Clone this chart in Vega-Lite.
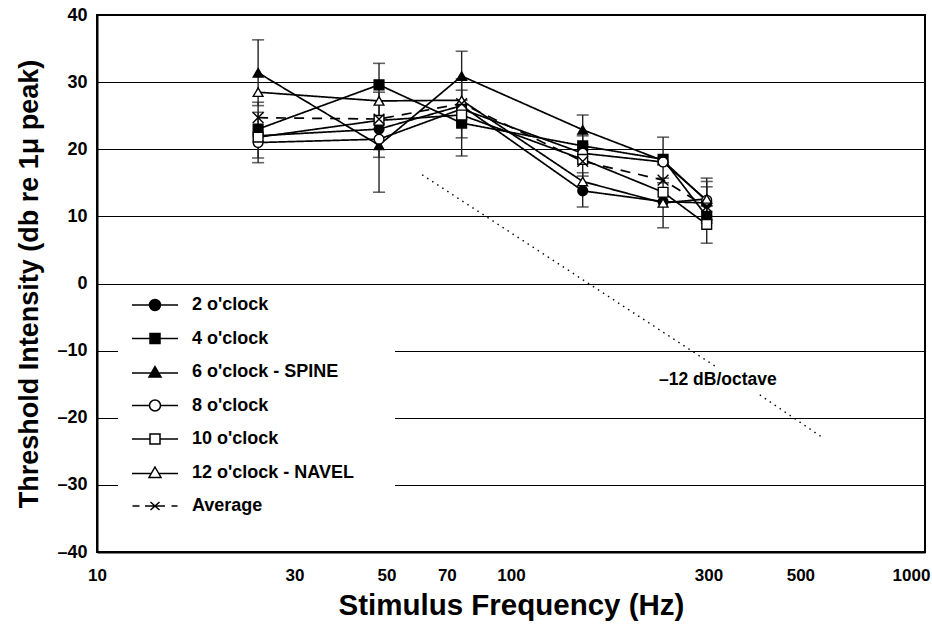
{
  "$schema": "https://vega.github.io/schema/vega-lite/v6.json",
  "width": 828,
  "height": 537,
  "autosize": "none",
  "padding": {"left": 97, "top": 15, "right": 7, "bottom": 74},
  "background": "white",
  "config": {
    "font": "Liberation Sans",
    "view": {"stroke": "black", "strokeWidth": 2},
    "axis": {"labelColor": "black", "titleColor": "black", "domainColor": "black", "domainWidth": 2}
  },
  "datasets": {
    "pts": [
      {"series": "2 o'clock", "freq": 24.5, "db": 22.0},
      {"series": "2 o'clock", "freq": 48, "db": 23.0},
      {"series": "2 o'clock", "freq": 76, "db": 26.5},
      {"series": "2 o'clock", "freq": 149, "db": 13.8},
      {"series": "2 o'clock", "freq": 233, "db": 12.2},
      {"series": "2 o'clock", "freq": 297, "db": 12.0},
      {"series": "4 o'clock", "freq": 24.5, "db": 23.0},
      {"series": "4 o'clock", "freq": 48, "db": 29.6},
      {"series": "4 o'clock", "freq": 76, "db": 23.9},
      {"series": "4 o'clock", "freq": 149, "db": 20.5},
      {"series": "4 o'clock", "freq": 233, "db": 18.5},
      {"series": "4 o'clock", "freq": 297, "db": 10.0},
      {"series": "6 o'clock - SPINE", "freq": 24.5, "db": 31.4},
      {"series": "6 o'clock - SPINE", "freq": 48, "db": 20.6},
      {"series": "6 o'clock - SPINE", "freq": 76, "db": 30.9},
      {"series": "6 o'clock - SPINE", "freq": 149, "db": 22.9},
      {"series": "6 o'clock - SPINE", "freq": 233, "db": 18.3},
      {"series": "6 o'clock - SPINE", "freq": 297, "db": 12.3},
      {"series": "8 o'clock", "freq": 24.5, "db": 21.0},
      {"series": "8 o'clock", "freq": 48, "db": 21.5},
      {"series": "8 o'clock", "freq": 76, "db": 26.0},
      {"series": "8 o'clock", "freq": 149, "db": 19.4},
      {"series": "8 o'clock", "freq": 233, "db": 18.1},
      {"series": "8 o'clock", "freq": 297, "db": 12.4},
      {"series": "10 o'clock", "freq": 24.5, "db": 21.8},
      {"series": "10 o'clock", "freq": 48, "db": 24.3},
      {"series": "10 o'clock", "freq": 76, "db": 25.1},
      {"series": "10 o'clock", "freq": 149, "db": 18.5},
      {"series": "10 o'clock", "freq": 233, "db": 13.6},
      {"series": "10 o'clock", "freq": 297, "db": 8.8},
      {"series": "12 o'clock - NAVEL", "freq": 24.5, "db": 28.5},
      {"series": "12 o'clock - NAVEL", "freq": 48, "db": 27.2},
      {"series": "12 o'clock - NAVEL", "freq": 76, "db": 27.3},
      {"series": "12 o'clock - NAVEL", "freq": 149, "db": 15.2},
      {"series": "12 o'clock - NAVEL", "freq": 233, "db": 12.0},
      {"series": "12 o'clock - NAVEL", "freq": 297, "db": 12.6},
      {"series": "Average", "freq": 24.5, "db": 24.7},
      {"series": "Average", "freq": 48, "db": 24.5},
      {"series": "Average", "freq": 76, "db": 26.8},
      {"series": "Average", "freq": 149, "db": 18.2},
      {"series": "Average", "freq": 233, "db": 15.4},
      {"series": "Average", "freq": 297, "db": 11.4}
    ],
    "err": [
      {"freq": 24.5, "lo": 26.5, "hi": 36.3},
      {"freq": 24.5, "lo": 18.7, "hi": 27.0},
      {"freq": 24.5, "lo": 18.0, "hi": 25.5},
      {"freq": 48, "lo": 13.6, "hi": 32.8},
      {"freq": 48, "lo": 18.8, "hi": 28.5},
      {"freq": 76, "lo": 27.3, "hi": 34.6},
      {"freq": 76, "lo": 19.0, "hi": 28.8},
      {"freq": 76, "lo": 21.7, "hi": 30.5},
      {"freq": 149, "lo": 20.7, "hi": 25.1},
      {"freq": 149, "lo": 11.4, "hi": 16.5},
      {"freq": 149, "lo": 16.0, "hi": 22.0},
      {"freq": 233, "lo": 15.0, "hi": 21.8},
      {"freq": 233, "lo": 8.3, "hi": 15.7},
      {"freq": 297, "lo": 6.0, "hi": 11.5},
      {"freq": 297, "lo": 9.0, "hi": 15.7},
      {"freq": 297, "lo": 10.0, "hi": 15.2},
      {"freq": 297, "lo": 9.5, "hi": 14.4}
    ],
    "slope": [
      {"seg": "a", "freq": 61, "db": 16.2},
      {"seg": "a", "freq": 311, "db": -12.3},
      {"seg": "b", "freq": 399, "db": -16.6},
      {"seg": "b", "freq": 564, "db": -22.9}
    ],
    "ann": [
      {"freq": 316, "db": -14.4, "label": "–12 dB/octave"}
    ]
  },
  "encoding": {
    "x": {
      "field": "freq", "type": "quantitative",
      "scale": {"type": "log", "domain": [10, 1000], "nice": false},
      "axis": {
        "values": [10, 30, 50, 70, 100, 300, 500, 1000], "format": "d",
        "grid": false, "ticks": false, "labelFlush": false,
        "labelOffset": {"condition": {"test": "datum.value == 1000", "value": -14}, "value": 0},
        "labelFontSize": 17, "labelFontWeight": "bold", "labelPadding": 15,
        "title": "Stimulus Frequency (Hz)", "titleFontSize": 29.5, "titleFontWeight": "bold", "titlePadding": 8
      }
    },
    "y": {
      "field": "db", "type": "quantitative",
      "scale": {"domain": [-40, 40], "nice": false},
      "axis": {
        "values": [-40, -30, -20, -10, 0, 10, 20, 30, 40],
        "grid": true, "gridColor": "black", "gridWidth": 1, "ticks": false,
        "labelExpr": "datum.value < 0 ? '–' + abs(datum.value) : datum.label",
        "labelFontSize": 18, "labelFontWeight": "bold", "labelPadding": 10,
        "title": "Threshold Intensity (db re 1μ peak)", "titleFontSize": 27, "titleFontWeight": "bold", "titlePadding": 13
      }
    }
  },
  "layer": [
    {
      "data": {"name": "slope"},
      "mark": {"type": "line", "color": "black", "strokeWidth": 1.4, "strokeDash": [1.5, 4.5]},
      "encoding": {"detail": {"field": "seg"}}
    },
    {
      "data": {"name": "ann"},
      "mark": {"type": "text", "fontSize": 17.5, "fontWeight": "bold", "color": "black", "align": "center", "baseline": "middle"},
      "encoding": {"text": {"field": "label"}}
    },
    {
      "data": {"name": "err"},
      "mark": {"type": "rule", "color": "#222", "strokeWidth": 1.4},
      "encoding": {"y": {"field": "lo", "type": "quantitative"}, "y2": {"field": "hi"}}
    },
    {
      "data": {"name": "err"},
      "mark": {"type": "tick", "orient": "horizontal", "color": "#222", "size": 12, "thickness": 1.6},
      "encoding": {"y": {"field": "lo", "type": "quantitative"}}
    },
    {
      "data": {"name": "err"},
      "mark": {"type": "tick", "orient": "horizontal", "color": "#222", "size": 12, "thickness": 1.6},
      "encoding": {"y": {"field": "hi", "type": "quantitative"}}
    },
    {
      "data": {"name": "pts"},
      "mark": {"type": "line", "color": "black"},
      "encoding": {
        "detail": {"field": "series"},
        "strokeDash": {
          "field": "series", "type": "nominal", "legend": null,
          "scale": {
            "domain": ["2 o'clock", "4 o'clock", "6 o'clock - SPINE", "8 o'clock", "10 o'clock", "12 o'clock - NAVEL", "Average"],
            "range": [[1, 0], [1, 0], [1, 0], [1, 0], [1, 0], [1, 0], [10, 8]]
          }
        },
        "strokeWidth": {
          "field": "series", "type": "nominal", "legend": null,
          "scale": {
            "domain": ["2 o'clock", "4 o'clock", "6 o'clock - SPINE", "8 o'clock", "10 o'clock", "12 o'clock - NAVEL", "Average"],
            "range": [1.7, 1.7, 1.7, 1.7, 1.7, 1.7, 2.8]
          }
        }
      }
    },
    {
      "data": {"name": "pts"},
      "mark": {"type": "point", "filled": true, "stroke": "black", "strokeWidth": 1.4, "size": 95, "opacity": 1},
      "encoding": {
        "shape": {
          "field": "series", "type": "nominal", "legend": null,
          "scale": {
            "domain": ["2 o'clock", "4 o'clock", "6 o'clock - SPINE", "8 o'clock", "10 o'clock", "12 o'clock - NAVEL", "Average"],
            "range": ["circle", "square", "triangle-up", "circle", "square", "triangle-up", "M-1.1,-1.1L1.1,1.1M-1.1,1.1L1.1,-1.1"]
          }
        },
        "fill": {
          "field": "series", "type": "nominal", "legend": null,
          "scale": {
            "domain": ["2 o'clock", "4 o'clock", "6 o'clock - SPINE", "8 o'clock", "10 o'clock", "12 o'clock - NAVEL", "Average"],
            "range": ["black", "black", "black", "white", "white", "white", "black"]
          }
        }
      }
    },
    {
      "data": {"name": "pts"},
      "mark": {"type": "point", "filled": true, "stroke": "black", "opacity": 0, "size": 100},
      "encoding": {
        "shape": {
          "field": "series", "type": "nominal",
          "scale": {
            "domain": ["2 o'clock", "4 o'clock", "6 o'clock - SPINE", "8 o'clock", "10 o'clock", "12 o'clock - NAVEL", "Average"],
            "range": [
              "M-4.6,0H-1.1M1.1,0H4.6M1.1,0A1.1,1.1,0,1,1,-1.1,0A1.1,1.1,0,1,1,1.1,0Z",
              "M-4.6,0H-1M1,0H4.6M-1,-1H1V1H-1Z",
              "M-4.6,0.2H-0.75M0.75,0.2H4.6M0,-1.1L1.2,1L-1.2,1Z",
              "M-4.6,0H-1.1M1.1,0H4.6M1.1,0A1.1,1.1,0,1,1,-1.1,0A1.1,1.1,0,1,1,1.1,0Z",
              "M-4.6,0H-1M1,0H4.6M-1,-1H1V1H-1Z",
              "M-4.6,0.2H-0.75M0.75,0.2H4.6M0,-1.1L1.2,1L-1.2,1Z",
              "M-4.5,0H-3.1M-2,0H2M3.3,0H4.5M-0.9,-0.8L0.9,0.8M-0.9,0.8L0.9,-0.8"
            ]
          },
          "legend": {
            "title": "  ", "titleOrient": "right", "titlePadding": 30, "titleFontSize": 18,
            "orient": "none", "legendX": 21, "legendY": 270,
            "padding": 11, "fillColor": "white", "strokeColor": null,
            "symbolSize": 100, "symbolOpacity": 1, "symbolOffset": 17,
            "labelFontSize": 18, "labelFontWeight": "bold", "labelColor": "black", "labelOffset": 28, "labelLimit": 400,
            "rowPadding": 15.5,
            "encode": {"symbols": {"update": {"stroke": {"value": "black"}, "strokeWidth": {"value": 1.5}, "opacity": {"value": 1}}}}
          }
        },
        "fill": {
          "field": "series", "type": "nominal",
          "scale": {
            "domain": ["2 o'clock", "4 o'clock", "6 o'clock - SPINE", "8 o'clock", "10 o'clock", "12 o'clock - NAVEL", "Average"],
            "range": ["black", "black", "black", "white", "white", "white", "black"]
          },
          "legend": {
            "title": "  ", "titleOrient": "right", "titlePadding": 30, "titleFontSize": 18,
            "orient": "none", "legendX": 21, "legendY": 270,
            "padding": 11, "fillColor": "white", "strokeColor": null,
            "symbolSize": 100, "symbolOpacity": 1, "symbolOffset": 17,
            "labelFontSize": 18, "labelFontWeight": "bold", "labelColor": "black", "labelOffset": 28, "labelLimit": 400,
            "rowPadding": 15.5,
            "encode": {"symbols": {"update": {"stroke": {"value": "black"}, "strokeWidth": {"value": 1.5}, "opacity": {"value": 1}}}}
          }
        }
      }
    }
  ],
  "resolve": {"scale": {"shape": "independent", "fill": "independent", "strokeDash": "independent", "strokeWidth": "independent"}}
}
